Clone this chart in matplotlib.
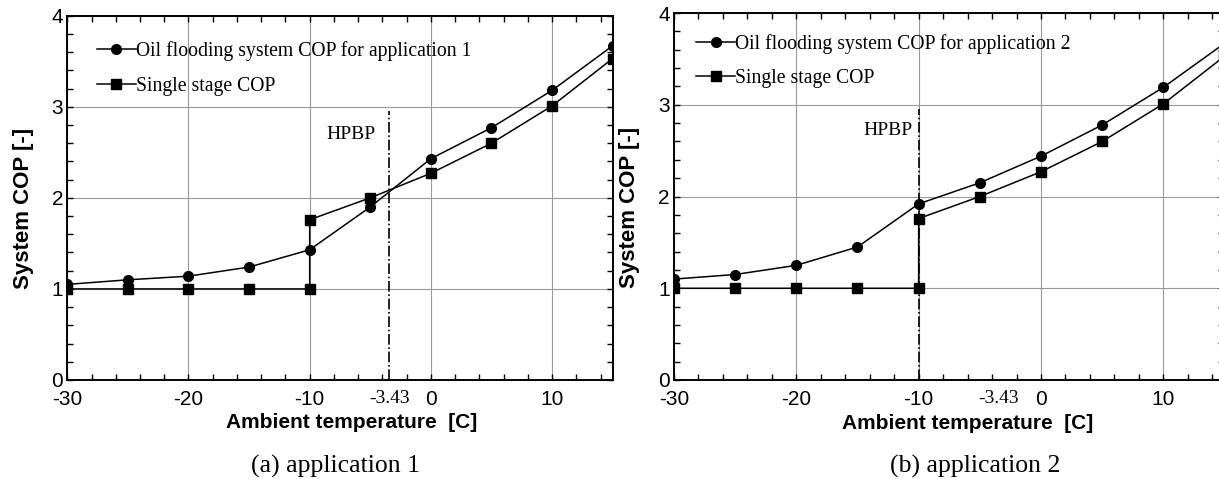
import matplotlib
matplotlib.use("Agg")
import matplotlib.pyplot as plt
from matplotlib.ticker import MultipleLocator

plt.rcParams["axes.unicode_minus"] = False

# ambient temperature [C]
temps = [-30, -25, -20, -15, -10, -5, 0, 5, 10, 15]
cop_oil_app1 = [1.05, 1.10, 1.14, 1.24, 1.43, 1.90, 2.43, 2.77, 3.18, 3.67]
cop_oil_app2 = [1.10, 1.15, 1.25, 1.45, 1.92, 2.15, 2.44, 2.78, 3.19, 3.67]

# single stage jumps at -10 C
temps_single = [-30, -25, -20, -15, -10, -10, -5, 0, 5, 10, 15]
cop_single = [1.0, 1.0, 1.0, 1.0, 1.0, 1.76, 2.0, 2.27, 2.6, 3.01, 3.53]

hpbp_app1 = -3.43
hpbp_app2 = -10
hpbp_top = 2.95
xtick_vals = [-30, -20, -10, 0, 10]
extra_tick = -3.43

SANS = "Liberation Sans"
SERIF = "Liberation Serif"


def draw_panel(ax, cop_oil, app_no, hpbp_x, hpbp_pos, leg_anchor, cap_x, xlab_x):
    ax.plot(temps, cop_oil, "-o", color="black", lw=1.1, ms=7,
            label="Oil flooding system COP for application %d" % app_no)
    ax.plot(temps_single, cop_single, "-s", color="black", lw=1.1, ms=6.5,
            label="Single stage COP")
    ax.plot([hpbp_x, hpbp_x], [0, hpbp_top], color="black", lw=1.2, ls="-.")
    ax.text(hpbp_pos[0], hpbp_pos[1], "HPBP", family=SERIF, fontsize=14,
            va="center", ha="left")

    ax.set_xlim(-30, 15)
    ax.set_ylim(0, 4)
    ax.set_xticks(xtick_vals)
    ax.xaxis.set_minor_locator(MultipleLocator(2))
    ax.yaxis.set_major_locator(MultipleLocator(1))
    ax.yaxis.set_minor_locator(MultipleLocator(0.2))
    ax.tick_params(which="both", direction="in", top=True, right=True,
                   length=4, width=1, labelsize=15)
    ax.tick_params(axis="x", pad=7)
    ax.tick_params(axis="y", pad=3)
    for lab in ax.get_xticklabels() + ax.get_yticklabels():
        lab.set_family(SANS)
    ax.grid(True, which="major", color="#999999", lw=0.8)
    for sp in ax.spines.values():
        sp.set_linewidth(1.4)

    # odd tick label for the HPBP temperature
    ax.text(extra_tick, -0.05, "-3.43", transform=ax.get_xaxis_transform(),
            family=SERIF, fontsize=14, ha="center", va="center")

    ax.set_xlabel("Ambient temperature  [C]", family=SANS, fontsize=15,
                  fontweight="bold")
    ax.xaxis.label.set_va("center")
    ax.xaxis.set_label_coords(xlab_x, -0.118)
    ax.set_ylabel("System COP [-]", family=SANS, fontsize=16,
                  fontweight="bold")
    ax.yaxis.label.set_va("center")
    ax.yaxis.set_label_coords(-0.081, 0.47)

    ax.legend(loc="upper left", bbox_to_anchor=leg_anchor, frameon=False,
              prop={"family": SERIF, "size": 14.2}, handlelength=2.0,
              handletextpad=0.0, labelspacing=0.8, borderpad=0,
              borderaxespad=0)
    ax.text(cap_x, -0.236, "(%s) application %d" % ("ab"[app_no - 1], app_no),
            transform=ax.transAxes, family=SERIF, fontsize=18.5,
            ha="center", va="center")


fig = plt.figure(figsize=(12.19, 4.79), dpi=100)
ax1 = fig.add_axes([0.0552, 0.2067, 0.4474, 0.7605])
ax2 = fig.add_axes([0.5529, 0.2067, 0.4516, 0.7660])

draw_panel(ax1, cop_oil_app1, 1, hpbp_app1, (-8.6, 2.70), (0.054, 0.93), 0.492, 0.521)
draw_panel(ax2, cop_oil_app2, 2, hpbp_app2, (-14.5, 2.72), (0.040, 0.944), 0.548, 0.533)

fig.savefig("out.png", dpi=100)
